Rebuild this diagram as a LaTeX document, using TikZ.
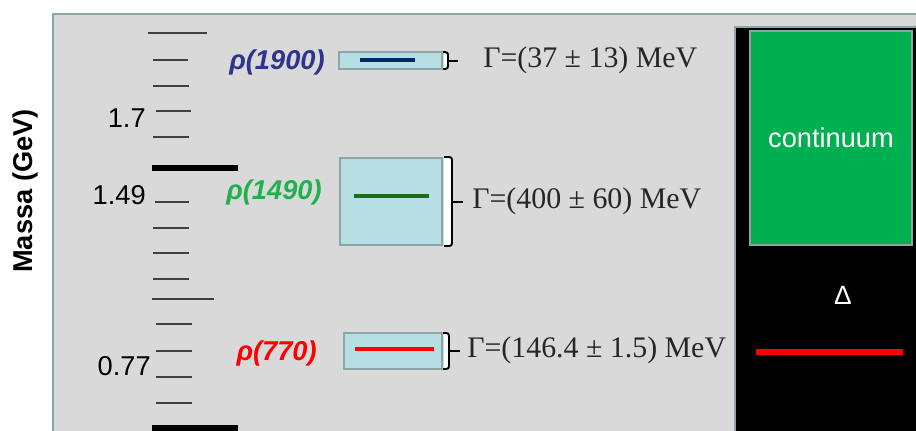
\documentclass[tikz,border=0pt]{standalone}
\usepackage{fontspec}
\setmainfont{Liberation Sans}
\newfontfamily\widthfont{Liberation Serif}
\usetikzlibrary{positioning}

\definecolor{panelgray}{RGB}{217,217,217}
\definecolor{frameteal}{RGB}{140,165,168}
\definecolor{boxblue}{RGB}{183,222,226}
\definecolor{navyline}{RGB}{0,40,100}
\definecolor{navylabel}{RGB}{46,52,140}
\definecolor{greenlabel}{RGB}{34,176,76}
\definecolor{greenline}{RGB}{26,110,26}
\definecolor{contgreen}{RGB}{0,176,80}

\begin{document}
\begin{tikzpicture}[x=0.02cm, y=-0.02cm,
  txt/.style={font=\fontsize{15.5}{18}\selectfont, inner sep=0pt},
  rholabel/.style={txt, font=\fontsize{15.5}{18}\selectfont\bfseries\itshape, anchor=east},
  width/.style={inner sep=0pt, anchor=west, font=\fontsize{17}{20}\selectfont\widthfont, text=black!85},
  statebox/.style={draw=frameteal, fill=boxblue, line width=1.3pt, inner sep=0pt},
  level/.style={line width=2.8pt},
  brk/.style={line width=1.1pt, rounded corners=1.5pt},
  tick/.style={line width=0.8pt, black!75}]
\useasboundingbox (0,0) rectangle (916,430);
\clip (0,0) rectangle (916,430);

% panels
\draw[frameteal, fill=panelgray, line width=1.4pt] (53,14) rectangle (940,445);
\draw[frameteal, fill=black, line width=1.4pt] (735,27) rectangle (940,445);
\node[draw=frameteal, fill=contgreen, line width=1.3pt, minimum width=3.24cm, minimum height=4.28cm,
  text=white, font=\fontsize{15.5}{18}\selectfont] (cont) at (831,138) {continuum};
\node[text=white, inner sep=0pt, font=\fontsize{15}{17}\selectfont] (delta) at (843,295) {Δ};
\draw[red, line width=3.4pt] (756,352) -- (903,352);

% mass scale
\foreach \y/\a/\b in {33/148/207, 60/153/188, 86/153/189, 111/156/191, 137/153/189,
  202/155/189, 228/153/189, 253/153/189, 279/153/189, 299/152/214,
  324/156/192, 351/156/192, 377/156/192, 403/156/192}
  \draw[tick] (\a,\y) -- (\b,\y);
\draw[line width=3.4pt] (152,168) -- (238,168);
\draw[line width=3.4pt] (152,428) -- (238,428);
\node[txt, anchor=east] (m17) at (146,118) {1.7};
\node[txt, anchor=east] (m149) at (146,195) {1.49};
\node[txt, anchor=east] (m077) at (151,366) {0.77};
\node[txt, font=\fontsize{15.5}{18}\selectfont\bfseries, rotate=90] (axis) at (25,191) {Massa (GeV)};

% states
\node[statebox, minimum width=2.06cm, minimum height=0.34cm] (b1900) at (390.5,60.5) {};
\node[statebox, minimum width=2.04cm, minimum height=1.74cm] (b1490) at (391,201.5) {};
\node[statebox, minimum width=1.96cm, minimum height=0.72cm] (b770) at (393,351) {};
\fill[white] ([xshift=0.65pt]b1900.north east) rectangle ([xshift=0.1cm]b1900.south east);
\fill[white] ([xshift=0.65pt]b1490.north east) rectangle ([xshift=0.18cm]b1490.south east);
\fill[white] ([xshift=0.65pt]b770.north east) rectangle ([xshift=0.1cm]b770.south east);
\draw[navyline, level] (360,60) -- (415,60);
\draw[greenline, level] (354,196) -- (429,196);
\draw[red, level] (355,349) -- (434,349);

\node[rholabel, text=navylabel] (r1900) at (325,62) {ρ(1900)};
\node[rholabel, text=greenlabel] (r1490) at (322,192) {ρ(1490)};
\node[rholabel, text=red] (r770) at (317,353) {ρ(770)};

% widths
\node[width] (g1900) at (483,60) {Γ=(37 ± 13) MeV};
\node[width] (g1490) at (472,201) {Γ=(400 ± 60) MeV};
\node[width] (g770) at (467,350) {Γ=(146.4 ± 1.5) MeV};

\draw[brk] (443,52) -- (448,52) -- (448,69) -- (443,69);
\draw[brk] (448,61) -- (458,61);
\draw[brk] (444,157) -- (452,157) -- (452,246) -- (444,246);
\draw[brk] (452,202) -- (463,202);
\draw[brk] (443,333) -- (449,333) -- (449,369) -- (443,369);
\draw[brk] (449,351) -- (460,351);
\end{tikzpicture}
\end{document}
